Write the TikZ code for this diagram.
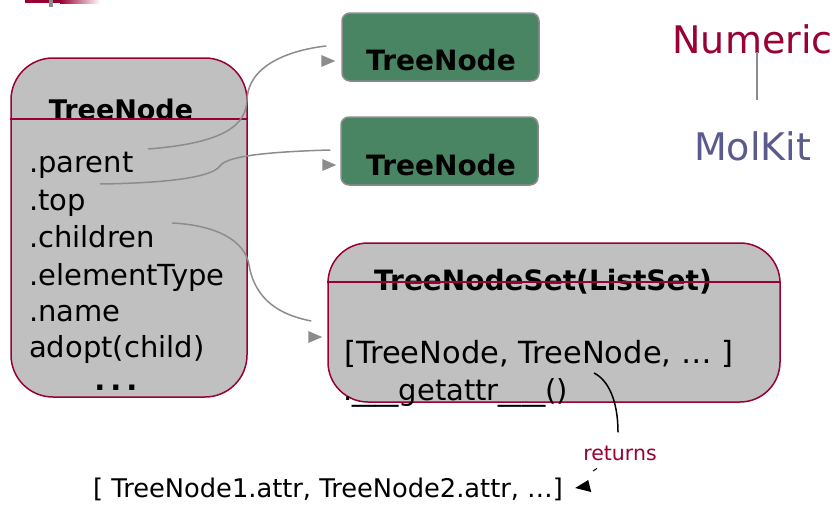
\documentclass[tikz,border=0pt]{standalone}
\usepackage{fontspec}
\setmainfont{DejaVu Sans}
\usetikzlibrary{calc}

\definecolor{crimson}{RGB}{153,0,51}
\definecolor{boxgray}{RGB}{192,192,192}
\definecolor{nodegreen}{RGB}{74,133,99}
\definecolor{linkgray}{RGB}{140,140,140}
\definecolor{kitblue}{RGB}{90,90,140}

\newcommand{\fsz}[1]{\fontsize{#1}{#1}\selectfont}
% a stretched underscore for the dunder method name
\newcommand{\wideus}{\scalebox{1.6}[1]{\_}}

\begin{document}
\begin{tikzpicture}[x=1pt,y=-1pt,
  classbox/.style={draw=crimson, line width=1.5pt, fill=boxgray,
    rounded corners=#1, inner sep=0pt},
  objbox/.style={draw=linkgray, line width=1.5pt, fill=nodegreen,
    rounded corners=8pt, inner sep=0pt, minimum width=197pt, minimum height=68pt},
  title/.style={font=\fsz{28}\bfseries, inner sep=0pt, anchor=base},
  member/.style={font=\fsz{29}, inner sep=0pt, anchor=base west},
  link/.style={draw=linkgray, line width=1.5pt},
  divider/.style={draw=crimson, line width=1.5pt},
]
\useasboundingbox (0,0) rectangle (840,506);

% header ornament
\fill[crimson] (25,0) rectangle (60,3);
\shade[left color=crimson, right color=white] (60,0) rectangle (100,3);
\fill[linkgray] (49,0) rectangle (53,7);

% TreeNode class box
\node[classbox=42pt, minimum width=236pt, minimum height=339pt] (lbox) at (129,227.5) {};
\node[title, font=\fsz{27}\bfseries] (lhead) at (121,119) {TreeNode};
\draw[divider] (lbox.west |- 0,119) -- (lbox.east |- 0,119);
\node[member] (mparent) at (29,172) {.parent};
\node[member] (mtop) at (29,210) {.top};
\node[member] (mchildren) at (29,247) {.children};
\node[member] (mtype) at (29,285) {.elementType};
\node[member] (mname) at (29,321) {.name};
\node[member] (madopt) at (29,357) {adopt(child)};
\node[member, anchor=base, font=\fsz{29}\bfseries] (mmore) at (116,390) {.\kern5pt.\kern5pt.};

% referenced TreeNode objects
\node[objbox] (g1) at (440.5,47) {};
\node[title] at (441,70) {TreeNode};
\node[objbox] (g2) at (439.5,151) {};
\node[title] at (441,175) {TreeNode};

% TreeNodeSet class box
\node[classbox=40pt, minimum width=452pt, minimum height=159pt] (sbox) at (554,322.5) {};
\node[title] (shead) at (543,290) {TreeNodeSet(ListSet)};
\draw[divider] (sbox.west |- 0,282) -- (sbox.east |- 0,282);
\node[member, font=\fsz{30.5}] (slist) at (344,363) {[TreeNode, TreeNode, … ]};
\node[member] (sget) at (343,400) {.\wideus\wideus getattr\wideus\wideus()};

% package labels
\node[font=\fsz{38}, text=crimson, inner sep=0pt, anchor=base] (num) at (752.5,53) {Numeric};
\node[font=\fsz{38}, text=kitblue, inner sep=0pt, anchor=base] (mol) at (752.5,160) {MolKit};
\draw[link] ($(num.base)+(4.5,-1)$) -- ($(mol.base)+(4.5,-60)$);

% attribute links
\coordinate (parentout) at (148,149);
\coordinate (topout) at (100,184);
\coordinate (childout) at (172,223);

\draw[link] (parentout) .. controls (225,143) and (246,125) .. (247,100)
  .. controls (248,65) and (290,50) .. ($(g1.west)+(-15,-1)$);
\fill[linkgray] ($(g1.west)+(-6,14)$) -- ++(-14,-6) -- ++(0,12) -- cycle;

\draw[link] (topout) .. controls (170,183) and (212,177) .. (220,166)
  .. controls (226,157) and (260,152) .. ($(g2.west)+(-10,-1)$);
\fill[linkgray] ($(g2.west)+(-4,14)$) -- ++(-14,-6) -- ++(0,12) -- cycle;

\draw[link] (childout) .. controls (215,225) and (245,240) .. (249,265)
  .. controls (255,300) and (280,315) .. ($(sbox.west)+(-16,-1.5)$);
\fill[linkgray] ($(sbox.west)+(-5,14.5)$) -- ++(-14,-6) -- ++(0,12) -- cycle;

% __getattr__ result
\node[font=\fsz{20.5}, text=crimson, inner sep=0pt, anchor=base] (ret) at (620,460) {returns};
\node[font=\fsz{25.7}, inner sep=0pt, anchor=base west] (result) at (93,497)
  {[ TreeNode1.attr, TreeNode2.attr, …]};
\coordinate (getout) at (594,373);
\draw[line width=1.5pt] (getout) .. controls (608,380) and (618,400) .. ($(ret.north)+(-2,-13)$);
\draw[line width=1pt] ($(ret.south)+(-23,8)$) -- ++(-4,2.5);
\fill ($(result.base east)+(12,-9)$) -- ++(13,-8) -- ++(3,12) -- cycle;
\end{tikzpicture}
\end{document}
